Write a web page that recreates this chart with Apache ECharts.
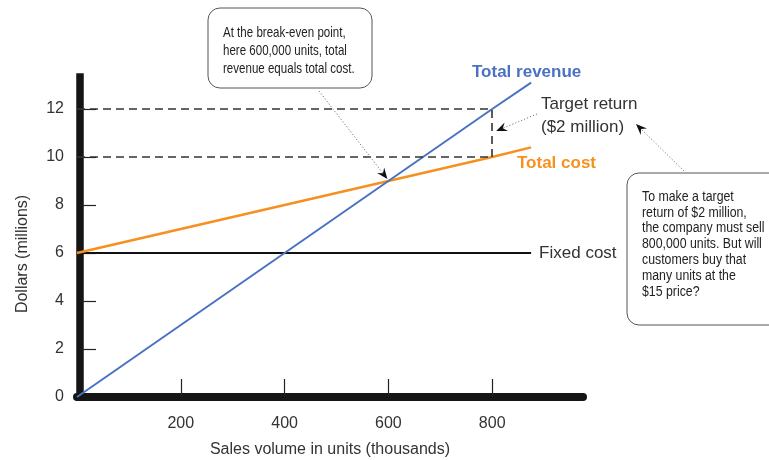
<!DOCTYPE html>
<html>
<head>
<meta charset="utf-8">
<script src="https://cdn.jsdelivr.net/npm/echarts@6/dist/echarts.min.js"></script>
<style>
  html, body { margin: 0; padding: 0; background: #fff; }
  #chart { width: 769px; height: 460px; }
</style>
</head>
<body>
<div id="chart"></div>
<script>
// Sales volume (thousands of units) at which each line is read
const units = [0, 600, 800, 875];
// Dollars (millions)
const totalRevenue = [0, 9, 12, 13.1];
const totalCost = [6, 9, 10, 10.4];
const fixedCost = [6, 6, 6, 6];

// Target-return guide: volume and the cost / revenue levels reached there
const targetVolume = 800;
const targetCost = 10;
const targetRevenue = 12;
// Break-even point
const breakEven = [600, 9];

const xTicks = [200, 400, 600, 800];
const yTicks = [0, 2, 4, 6, 8, 10, 12];

const FONT = '"Liberation Sans", Arial, Helvetica, sans-serif';
const TEXT = '#333';
const BLUE = '#4a72c2';
const ORANGE = '#f7901e';

const pairs = (ys) => units.map((u, i) => [u, ys[i]]);

const chart = echarts.init(document.getElementById('chart'));

chart.setOption({
  animation: false,
  backgroundColor: '#fff',
  textStyle: { fontFamily: FONT },
  grid: { left: 77, top: 77, width: 506, height: 320, outerBoundsMode: 'none', containLabel: false },
  xAxis: {
    type: 'value',
    min: 0,
    max: 975,
    interval: 200,
    offset: 4,
    axisLine: { show: true, lineStyle: { color: '#151515', width: 8 } },
    axisTick: {
      show: true, inside: true, length: 18,
      customValues: xTicks,
      lineStyle: { color: '#222', width: 1.2 }
    },
    axisLabel: {
      customValues: xTicks,
      margin: 15,
      fontSize: 16,
      color: TEXT
    },
    splitLine: { show: false },
    name: 'Sales volume in units (thousands)',
    nameLocation: 'middle',
    nameGap: 41,
    nameTextStyle: { fontSize: 16, color: TEXT }
  },
  yAxis: {
    type: 'value',
    min: 0,
    max: 320 / 24,
    interval: 2,
    offset: -3,
    axisLine: { show: true, lineStyle: { color: '#151515', width: 7.5, cap: 'square' } },
    axisTick: {
      show: true, inside: true, length: 16,
      customValues: yTicks.slice(1),
      lineStyle: { color: '#222', width: 1.2 }
    },
    axisLabel: {
      customValues: yTicks,
      margin: 16,
      fontSize: 16,
      color: TEXT
    },
    splitLine: { show: false }
  },
  series: [
    {
      name: 'Target return guides',
      type: 'line',
      data: [],
      silent: true,
      markLine: {
        silent: true,
        symbol: ['none', 'none'],
        label: { show: false },
        lineStyle: { type: [8, 5], color: '#333', width: 1.6 },
        data: [
          [{ coord: [0, targetRevenue] }, { coord: [targetVolume, targetRevenue] }],
          [{ coord: [0, targetCost] }, { coord: [targetVolume, targetCost] }],
          [{ coord: [targetVolume, targetCost] }, { coord: [targetVolume, targetRevenue] }]
        ]
      }
    },
    {
      name: 'Fixed cost',
      type: 'line',
      data: pairs(fixedCost),
      symbol: 'none',
      lineStyle: { color: '#111', width: 2 },
      endLabel: {
        show: true,
        formatter: 'Fixed cost',
        distance: 8,
        fontSize: 17,
        color: TEXT
      }
    },
    {
      name: 'Total cost',
      type: 'line',
      data: pairs(totalCost),
      symbol: 'none',
      lineStyle: { color: ORANGE, width: 2.5 }
    },
    {
      name: 'Total revenue',
      type: 'line',
      data: pairs(totalRevenue),
      symbol: 'none',
      lineStyle: { color: BLUE, width: 2 }
    }
  ]
});

// Dotted leader with a notched arrowhead ending at `tip`
function arrow(from, tip) {
  const dx = tip[0] - from[0], dy = tip[1] - from[1];
  const d = Math.hypot(dx, dy);
  const ux = dx / d, uy = dy / d;
  const len = 11, half = 4.5;
  const base = [tip[0] - ux * len, tip[1] - uy * len];
  const notch = [tip[0] - ux * len * 0.65, tip[1] - uy * len * 0.65];
  const left = [base[0] - uy * half, base[1] + ux * half];
  const right = [base[0] + uy * half, base[1] - ux * half];
  return [
    {
      type: 'line', z: 100,
      shape: { x1: from[0], y1: from[1], x2: notch[0], y2: notch[1] },
      style: { stroke: '#777', lineWidth: 1, lineDash: [1.2, 2] }
    },
    {
      type: 'polygon', z: 101,
      shape: { points: [tip, left, notch, right] },
      style: { fill: '#111' }
    }
  ];
}

function box(x, y, w, h) {
  return {
    type: 'rect', z: 90,
    shape: { x: x, y: y, width: w, height: h, r: 12 },
    style: { fill: '#fff', stroke: '#555', lineWidth: 1 }
  };
}

function note(x, y, lines, size, lineHeight, squeeze) {
  return {
    type: 'text', z: 95, x: x, y: y, scaleX: squeeze,
    style: {
      text: lines.join('\n'),
      font: size + 'px ' + FONT,
      lineHeight: lineHeight,
      fill: '#222',
      textAlign: 'left',
      textVerticalAlign: 'top'
    }
  };
}

function label(x, y, text, color, weight) {
  return {
    type: 'text', z: 95, x: x, y: y,
    style: {
      text: text,
      font: (weight || 'normal') + ' 17px ' + FONT,
      fill: color,
      textAlign: 'left',
      textVerticalAlign: 'middle'
    }
  };
}

const bePx = chart.convertToPixel({ gridIndex: 0 }, breakEven);
const tgtPx = chart.convertToPixel({ gridIndex: 0 }, [targetVolume, (targetCost + targetRevenue) / 2]);

const graphics = [
  {
    type: 'text', z: 95, x: 23, y: 254, rotation: Math.PI / 2,
    style: {
      text: 'Dollars (millions)', font: '16px ' + FONT, fill: TEXT,
      textAlign: 'center', textVerticalAlign: 'middle'
    }
  },
  label(472, 72, 'Total revenue', BLUE, 'bold'),
  label(517, 163, 'Total cost', ORANGE, 'bold'),
  label(541, 104, 'Target return', TEXT),
  label(541, 127, '($2 million)', TEXT),

  box(208, 8, 164, 80),
  note(223, 23.5, ['At the break-even point,', 'here 600,000 units, total', 'revenue equals total cost.'], 15, 18, 0.77),

  box(627, 173, 160, 152),
  note(642, 189, ['To make a target', 'return of $2 million,', 'the company must sell',
                  '800,000 units. But will', 'customers buy that', 'many units at the', '$15 price?'], 14, 15.8, 0.88)
]
  .concat(arrow([319, 91], [bePx[0] - 1, bePx[1] - 2]))
  .concat(arrow([537, 114], [tgtPx[0] + 4, tgtPx[1] - 2]))
  .concat(arrow([684, 171], [636, 124]));

chart.setOption({ graphic: graphics });
</script>
</body>
</html>
